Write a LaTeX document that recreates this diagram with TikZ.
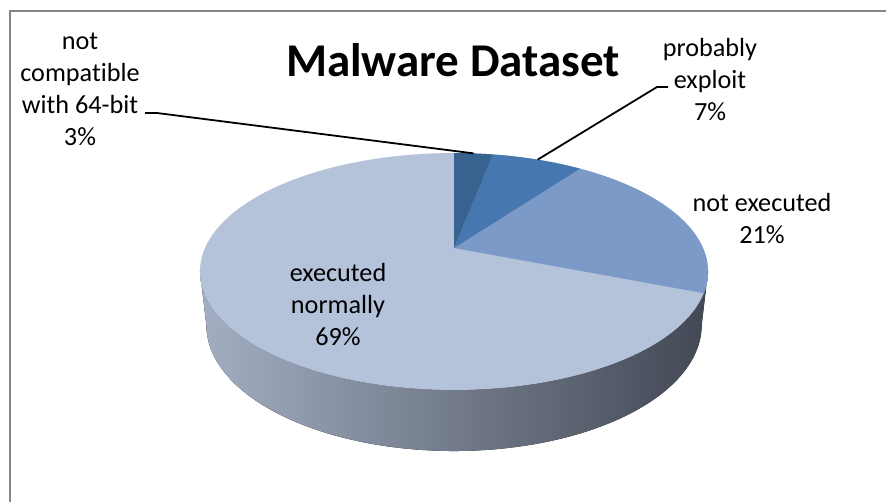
\documentclass[tikz,border=0pt]{standalone}
\usepackage{fontspec}
\setmainfont[Ligatures=NoCommon]{Carlito}
\definecolor{cExec}{RGB}{180,194,218}
\definecolor{cNotExec}{RGB}{124,154,199}
\definecolor{cExploit}{RGB}{71,119,176}
\definecolor{cCompat}{RGB}{56,98,143}
\definecolor{sideL}{RGB}{163,174,194}
\definecolor{sideM}{RGB}{112,120,137}
\definecolor{sideR}{RGB}{66,72,84}
\definecolor{frameGray}{RGB}{134,134,134}
\begin{document}
\begin{tikzpicture}[x=1pt,y=-1pt,
  % perspective projection of the pie's top and bottom circles
  declare function={
    tx(\a)=454+1117*sin(\a)/(4.486+0.8895*cos(\a));
    ty(\a)=248-510.5*cos(\a)/(4.486+0.8895*cos(\a));
    bx(\a)=454+1117*sin(\a)/(4.5974+0.8895*cos(\a));
    by(\a)=248+(242.3-510.5*cos(\a))/(4.5974+0.8895*cos(\a));
  },
  lbl/.style={font=\fontsize{26.2}{32}\selectfont, align=center, inner sep=0pt, text=black},
  leader/.style={draw=black, line width=1.8pt},
  ttl/.style={font=\fontsize{47}{56}\selectfont\bfseries, inner sep=0pt, anchor=base},
]
\useasboundingbox (0,0) rectangle (886,502);
\fill[white] (0,0) rectangle (886,502);
\draw[frameGray, line width=2.2pt] (10,11) rectangle (900,520);

% side wall
\fill[left color=sideL, middle color=sideM, right color=sideR]
  plot[domain=101.4:258.6, samples=90] ({tx(\x)},{ty(\x)})
  -- plot[domain=258.8:101.2, samples=90] ({bx(\x)},{by(\x)}) -- cycle;

% top face and slices
\coordinate (apex) at (454,248);
\fill[cExec] plot[domain=0:360, samples=200] ({tx(\x)},{ty(\x)}) -- cycle;
\fill[cNotExec] (apex) -- plot[domain=36:111.6, samples=60] ({tx(\x)},{ty(\x)}) -- cycle;
\fill[cExploit] (apex) -- plot[domain=10.8:36, samples=30] ({tx(\x)},{ty(\x)}) -- cycle;
\fill[cCompat] (apex) -- plot[domain=0:10.8, samples=15] ({tx(\x)},{ty(\x)}) -- cycle;

% title
\node[ttl] (title) at (453,77) {Malware Dataset};

% data labels
\node[lbl] (lCompat) at (80,89) {not\\compatible\\with 64-bit\\3\%};
\node[lbl] (lExploit) at (710,79.5) {probably\\exploit\\7\%};
\node[lbl] (lNotExec) at (762,218.5) {not executed\\21\%};
\node[lbl] (lExec) at (338,304.5) {executed\\normally\\69\%};

% leader lines
\coordinate (tipC) at ({tx(5.4)},{ty(5.4)});
\coordinate (tipE) at ({tx(23.4)},{ty(23.4)});
\coordinate (startC) at (145,113);
\coordinate (bendC) at (157,113);
\coordinate (startE) at (668,87);
\coordinate (bendE) at (657,87);
\draw[leader] (startC) -- (bendC) -- (tipC);
\draw[leader] (startE) -- (bendE) -- (tipE);
\end{tikzpicture}
\end{document}
